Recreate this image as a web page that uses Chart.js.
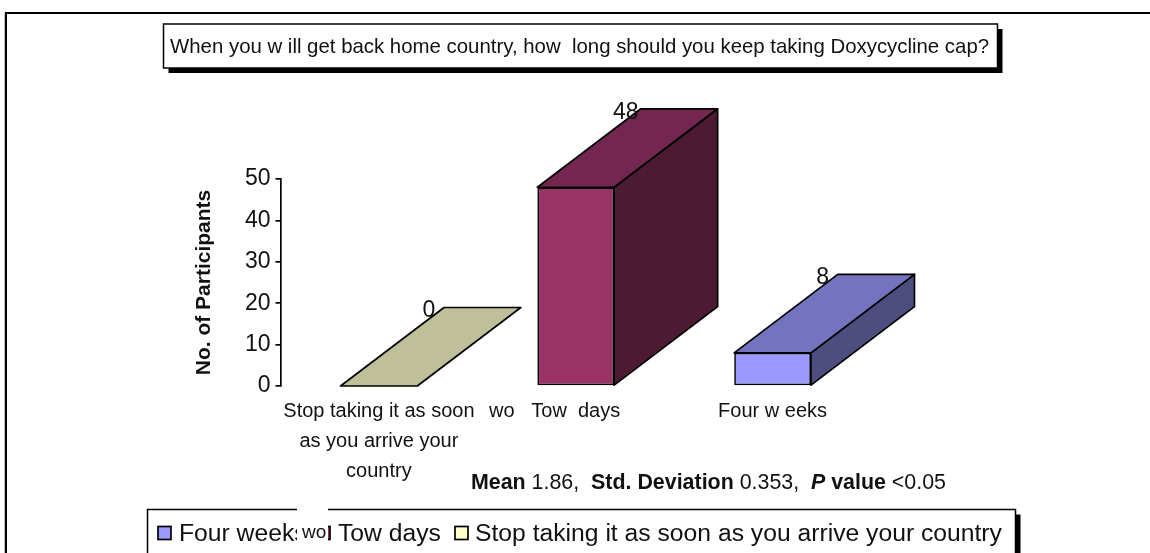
<!DOCTYPE html>
<html>
<head>
<meta charset="utf-8">
<script src="https://cdn.jsdelivr.net/npm/chart.js@4"></script>
<style>
  html, body { margin: 0; padding: 0; background: #fff; }
  canvas { display: block; }
</style>
</head>
<body>
<canvas id="graphic" width="1150" height="553"></canvas>
<script>
const categories = [
  ["Stop taking it as soon", "as you arrive your", "country"],
  "Tow  days",
  "Four w eeks"
];
const participants = [0, 48, 8];
const yTicks = [0, 10, 20, 30, 40, 50];
const legendLabels = ["Four weeks", "Tow days", "Stop taking it as soon as you arrive your country"];
const titleText = "When you w ill get back home country, how  long should you keep taking Doxycycline cap?";
const yTitle = "No. of Participants";

const frontColors = ["#FFFFCC", "#993366", "#9999FF"];
const topColors = ["#BFBF99", "#732650", "#7373BF"];
const sideColors = ["#80806A", "#4D1A33", "#4D4D80"];
const legendColors = ["#9999FF", "#993366", "#FFFFCC"];

const FONT = '"Liberation Sans", Arial, sans-serif';

function shadowBox(ctx, x, y, w, h, off) {
  ctx.fillStyle = "#000";
  ctx.fillRect(x + off, y + off, w, h);
  ctx.fillStyle = "#fff";
  ctx.fillRect(x, y, w, h);
  ctx.strokeStyle = "#000";
  ctx.lineWidth = 1.5;
  ctx.strokeRect(x, y, w, h);
}

function face(ctx, pts, color) {
  ctx.beginPath();
  pts.forEach((p, i) => i ? ctx.lineTo(p[0], p[1]) : ctx.moveTo(p[0], p[1]));
  ctx.closePath();
  ctx.fillStyle = color;
  ctx.fill();
  ctx.stroke();
}

// the side and top of each bar, worked out from the bar Chart.js placed
const boxFaces = {
  id: "boxFaces",
  afterDatasetsDraw(chart) {
    const ctx = chart.ctx;
    const dx = 103.5, dy = 78.5;
    ctx.save();
    ctx.strokeStyle = "#000";
    ctx.lineWidth = 1.7;
    ctx.lineJoin = "round";
    chart.getDatasetMeta(0).data.forEach((bar, i) => {
      const l = bar.x - bar.width / 2, r = bar.x + bar.width / 2;
      if (bar.base > bar.y) {
        face(ctx, [[r, bar.y], [r + dx, bar.y - dy], [r + dx, bar.base - dy], [r, bar.base]], sideColors[i]);
      }
      face(ctx, [[l, bar.y], [l + dx, bar.y - dy], [r + dx, bar.y - dy], [r, bar.y]], topColors[i]);
      ctx.fillStyle = "#111";
      ctx.font = "23px " + FONT;
      ctx.textAlign = "center";
      ctx.textBaseline = "middle";
      ctx.fillText(String(participants[i]), bar.x + 50, bar.y - 75);
    });
    ctx.restore();
  }
};

const furniture = {
  id: "furniture",
  afterDraw(chart) {
    const ctx = chart.ctx;
    ctx.save();
    ctx.textBaseline = "alphabetic";
    ctx.textAlign = "left";

    // outer frame
    ctx.fillStyle = "#000";
    ctx.fillRect(5, 12, 1145, 2);
    ctx.fillRect(5, 12, 2, 541);
    ctx.fillStyle = "#c4c4c4";
    ctx.fillRect(4, 13, 1, 540);

    // title
    shadowBox(ctx, 163.5, 24, 834, 44, 5);
    ctx.fillStyle = "#111";
    ctx.font = "20.4px " + FONT;
    ctx.fillText(titleText, 170, 53);

    // stats line
    let x = 471;
    const runs = [
      ["bold", "Mean"], ["", " 1.86,  "], ["bold", "Std. Deviation"], ["", " 0.353,  "],
      ["italic bold", "P"], ["bold", " value"], ["", " <0.05"]
    ];
    runs.forEach(run => {
      ctx.font = (run[0] + " 21.4px " + FONT).trim();
      ctx.fillText(run[1], x, 488.5);
      x += ctx.measureText(run[1]).width;
    });

    // second, stray "wo"
    ctx.font = "20px " + FONT;
    ctx.fillText("wo", 489, 417);

    // legend
    shadowBox(ctx, 147.5, 509.5, 868, 60, 5);
    const swatchX = [158, 317, 455];
    const textX = [179, 338, 475];
    legendLabels.forEach((label, i) => {
      ctx.fillStyle = legendColors[i];
      ctx.fillRect(swatchX[i], 526.5, 13, 13);
      ctx.strokeStyle = "#000";
      ctx.lineWidth = 1.7;
      ctx.strokeRect(swatchX[i], 526.5, 13, 13);
      ctx.fillStyle = "#111";
      ctx.font = "24.7px " + FONT;
      ctx.fillText(label, textX[i], 541);
    });

    // the white patch with the "wo" that sits over the legend
    ctx.fillStyle = "#fff";
    ctx.fillRect(297, 500, 31, 53);
    ctx.fillStyle = "#111";
    ctx.font = "19px " + FONT;
    ctx.fillText("wo", 302, 538);
    ctx.restore();
  }
};

new Chart(document.getElementById("graphic"), {
  type: "bar",
  data: {
    labels: categories,
    datasets: [{
      data: participants,
      backgroundColor: frontColors,
      borderColor: "#000",
      borderWidth: 1.7,
      borderSkipped: false,
      barPercentage: 0.39,
      categoryPercentage: 1
    }]
  },
  options: {
    responsive: false,
    animation: false,
    layout: { padding: { left: 191.5, top: 179, right: 279, bottom: 47 } },
    plugins: { legend: { display: false }, title: { display: false }, tooltip: { enabled: false } },
    scales: {
      x: {
        grid: { display: false },
        border: { display: false },
        afterFit(scale) { scale.height = 120; },
        ticks: {
          autoSkip: false,
          maxRotation: 0,
          padding: 2,
          color: "#111",
          font: { family: FONT, size: 20, lineHeight: 1.5 }
        }
      },
      y: {
        min: 0,
        max: 50,
        afterFit(scale) { scale.width = 89; },
        afterBuildTicks(scale) { scale.ticks = yTicks.map(v => ({ value: v })); },
        grid: { display: true, drawOnChartArea: false, color: "#000", tickLength: 5, lineWidth: 1.7 },
        border: { display: true, color: "#000", width: 1.7 },
        ticks: { padding: 5, color: "#111", font: { family: FONT, size: 23 } },
        title: {
          display: true,
          text: yTitle,
          color: "#111",
          padding: { top: 0, bottom: 0 },
          font: { family: FONT, size: 21, weight: "bold" }
        }
      }
    }
  },
  plugins: [boxFaces, furniture]
});
</script>
</body>
</html>
